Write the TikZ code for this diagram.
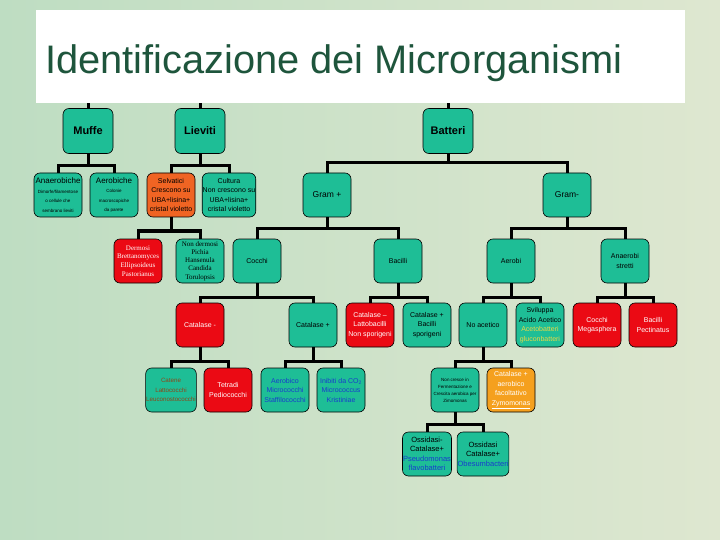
\documentclass[tikz,border=0pt]{standalone}
\usepackage{fontspec}
\setmainfont{Liberation Sans}
\newfontfamily\serifrm{Liberation Serif}
\definecolor{boxgreen}{RGB}{30,190,150}
\definecolor{boxred}{RGB}{235,10,20}
\definecolor{boxorange}{RGB}{240,100,35}
\definecolor{boxamber}{RGB}{245,160,30}
\definecolor{titlegreen}{RGB}{30,85,60}
\definecolor{txtblue}{RGB}{25,60,205}
\definecolor{txtbrown}{RGB}{140,70,25}
\definecolor{txtyellow}{RGB}{235,215,70}
\definecolor{bgleft}{RGB}{190,221,194}
\definecolor{bgright}{RGB}{222,231,208}
\tikzset{
  box/.style={draw=black, line width=0.6pt, rounded corners=6pt, fill=boxgreen,
    minimum width=48pt, minimum height=44pt, inner sep=0.5pt, align=center,
    font=\fontsize{7}{9.5}\selectfont},
  topbox/.style={box, minimum width=50pt, minimum height=45pt,
    font=\bfseries\fontsize{11}{13}\selectfont},
  redbox/.style={box, fill=boxred, text=white},
  serifbox/.style={box, font=\serifrm\fontsize{7}{8.6}\selectfont},
  conn/.style={line width=3pt},
}
\newcommand{\tinytext}{\fontsize{4.5}{7}\selectfont}

\begin{document}
\begin{tikzpicture}[x=1pt, y=-1pt]
  \useasboundingbox (0,0) rectangle (720,540);
  \shade[left color=bgleft, right color=bgright] (0,0) rectangle (720,540);

  % Title
  \node[fill=white, minimum width=649pt, minimum height=93pt, inner sep=0pt] (title) at (360.5,56.5) {};
  \node[anchor=base west, inner sep=0pt, text=titlegreen, font=\fontsize{39.8}{40}\selectfont] (titletext) at (45,74) {Identificazione dei Microrganismi};

  % Define nodes
  \node[topbox] (muffe)   at (88,131)  {Muffe};
  \node[topbox] (lieviti) at (200,131) {Lieviti};
  \node[topbox] (batteri) at (448,131) {Batteri};

  \node[box] (anaer) at (58,195) {{\fontsize{8}{9}\selectfont Anaerobiche}\\\tinytext Dimorfe/filamentose\\\tinytext o cellule che\\\tinytext sembrano lieviti};
  \node[box] (aer)   at (114,195) {{\fontsize{8}{9}\selectfont Aerobiche}\\\tinytext Colonie\\\tinytext macroscopiche\\\tinytext da parete};
  \node[box, fill=boxorange] (selv) at (171,195) {Selvatici\\Crescono su\\UBA+lisina+\\cristal violetto};
  \node[box] (cult)  at (229,195) {Cultura\\Non crescono su\\UBA+lisina+\\cristal violetto};
  \node[box, font=\fontsize{8.5}{11}\selectfont] (gramp) at (327,195) {Gram +};
  \node[box, font=\fontsize{8.5}{11}\selectfont] (gramm) at (567,195) {Gram-};

  \node[serifbox, fill=boxred, text=white] (derm) at (138,261) {Dermosi\\Brettanomyces\\Ellipsoideus\\Pastorianus};
  \node[serifbox, font=\serifrm\fontsize{7}{8.2}\selectfont] (nonderm) at (200,261) {Non dermosi\\Pichia\\Hansenula\\Candida\\Torulopsis};
  \node[box] (cocchi)  at (257,261) {Cocchi};
  \node[box] (bacilli) at (398,261) {Bacilli};
  \node[box] (aerobi)  at (511,261) {Aerobi};
  \node[box] (anstr)   at (625,261) {Anaerobi\\stretti};

  \node[redbox] (catm)   at (200,325) {Catalase -};
  \node[box]    (catp)   at (313,325) {Catalase +};
  \node[redbox] (catl)   at (370,325) {Catalase --\\Lattobacilli\\Non sporigeni};
  \node[box]    (catb)   at (427,325) {Catalase +\\Bacilli\\sporigeni};
  \node[box]    (noacet) at (483,325) {No acetico};
  \node[box]    (svil)   at (540,325) {Sviluppa\\Acido Acetico\\\textcolor{txtyellow}{Acetobatteri}\\\textcolor{txtyellow}{gluconbatteri}};
  \node[redbox] (cocmeg) at (597,325) {Cocchi\\Megasphera};
  \node[redbox] (bacpec) at (653,325) {Bacilli\\Pectinatus};

  \node[box, text=txtbrown, font=\fontsize{6.2}{9.5}\selectfont] (catene) at (171,390) {Catene\\Lattococchi\\Leuconostococchi};
  \node[redbox] (tetradi)  at (228,390) {Tetradi\\Pediococchi};
  \node[box, text=txtblue] (aerobico) at (285,390) {Aerobico\\Micrococchi\\Staffilococchi};
  \node[box, text=txtblue] (inibiti)  at (341,390) {Inibiti da CO\textsubscript{2}\\Micrococcus\\Kristiniae};
  \node[box, font=\tinytext] (noncresce) at (455,390) {Non cresce in\\Fermentazione e\\Crescita aerobica per\\Zimomonas};
  \node[box, fill=boxamber, text=white] (cataer) at (511,390) {Catalase +\\aerobico\\facoltativo\\\underline{Zymomonas}};

  \node[box, font=\fontsize{7.5}{9.5}\selectfont] (ossm) at (427,454) {Ossidasi-\\Catalase+\\\textcolor{txtblue}{Pseudomonas}\\\textcolor{txtblue}{flavobatteri}};
  \node[box, font=\fontsize{7.5}{9.5}\selectfont] (oss)  at (483,454) {Ossidasi\\Catalase+\\\textcolor{txtblue}{Obesumbacteri}};

  % Connectors
  \foreach \c in {muffe,lieviti,batteri}
    \draw[conn] (title.south -| \c.north) -- (\c.north);
  \foreach \p/\c/\y in {muffe/anaer/166, muffe/aer/166, lieviti/selv/166, lieviti/cult/166,
      batteri/gramp/163, batteri/gramm/163, selv/derm/231, selv/nonderm/231,
      gramp/cocchi/229, gramp/bacilli/229, gramm/aerobi/229, gramm/anstr/229,
      cocchi/catm/297, cocchi/catp/297, bacilli/catl/297, bacilli/catb/297,
      aerobi/noacet/297, aerobi/svil/297, anstr/cocmeg/297, anstr/bacpec/297,
      catm/catene/361, catm/tetradi/361, catp/aerobico/361, catp/inibiti/361,
      noacet/noncresce/361, noacet/cataer/361, noncresce/ossm/424, noncresce/oss/424}
    \draw[conn] (\p.south) -- (\p.south |- 0,\y) -| (\c.north);
\end{tikzpicture}
\end{document}
